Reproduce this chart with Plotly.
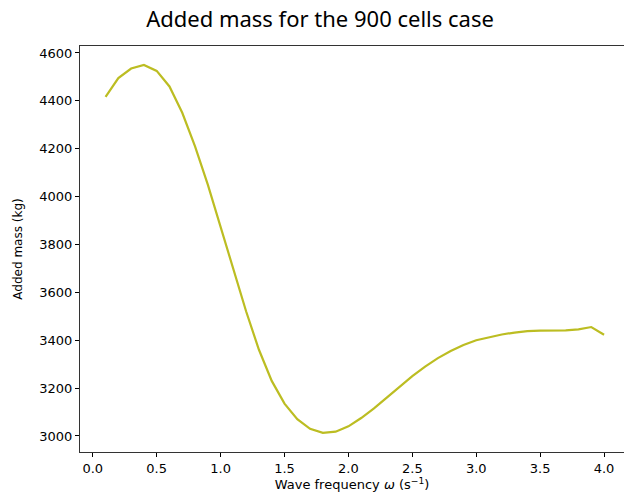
import plotly.graph_objects as go

omega = [0.1, 0.2, 0.3, 0.4, 0.5, 0.6, 0.7, 0.8, 0.9, 1.0,
         1.1, 1.2, 1.3, 1.4, 1.5, 1.6, 1.7, 1.8, 1.9, 2.0,
         2.1, 2.2, 2.3, 2.4, 2.5, 2.6, 2.7, 2.8, 2.9, 3.0,
         3.1, 3.2, 3.3, 3.4, 3.5, 3.6, 3.7, 3.8, 3.9, 4.0]
added_mass = [4416, 4495, 4535, 4550, 4525, 4460, 4350, 4210, 4050, 3870,
              3690, 3520, 3360, 3230, 3135, 3070, 3030, 3013, 3018, 3040,
              3075, 3115, 3160, 3205, 3250, 3290, 3325, 3355, 3380, 3400,
              3413, 3424, 3432, 3438, 3440, 3440, 3441, 3445, 3455, 3423]
yticks = [3000, 3200, 3400, 3600, 3800, 4000, 4200, 4400, 4600]
xticks = [0.0, 0.5, 1.0, 1.5, 2.0, 2.5, 3.0, 3.5, 4.0]

fig = go.Figure()
fig.add_trace(go.Scatter(x=omega, y=added_mass, mode="lines",
                         line=dict(color="#bcbd22", width=2.2), showlegend=False))

W, H = 624, 499
fig.update_layout(
    width=W, height=H,
    margin=dict(l=80, r=0, t=46, b=47),
    paper_bgcolor="white", plot_bgcolor="white",
    font=dict(family="DejaVu Sans", size=13, color="black"),
    title=dict(text="Added mass for the 900 cells case", x=320 / W, xanchor="center",
               y=1 - 19 / H, yanchor="middle", font=dict(size=22, family="Noto Sans")),
    xaxis=dict(range=[-0.1, 4.156], tickvals=xticks, ticktext=[f"{v:.1f}" for v in xticks],
               ticks="outside", ticklen=4, tickcolor="black", showgrid=False, zeroline=False,
               showline=True, linecolor="#333", linewidth=1.2, mirror=True, automargin=False,
               tickfont=dict(size=13),
               title=dict(text="Wave frequency <i>ω</i> (s<sup>−1</sup>)", standoff=4,
                          font=dict(size=13))),
    yaxis=dict(range=[2933, 4629], tickvals=yticks, ticks="outside", ticklen=4,
               tickcolor="black", showgrid=False, zeroline=False, automargin=False,
               showline=True, linecolor="#333", linewidth=1.2, mirror=False,
               tickfont=dict(size=13),
               title=dict(text="Added mass (kg)", standoff=14, font=dict(size=12))),
)
fig.write_html("out.html", config={"displayModeBar": False},
               post_script="document.body.style.margin='0';document.body.style.overflow='hidden';")
